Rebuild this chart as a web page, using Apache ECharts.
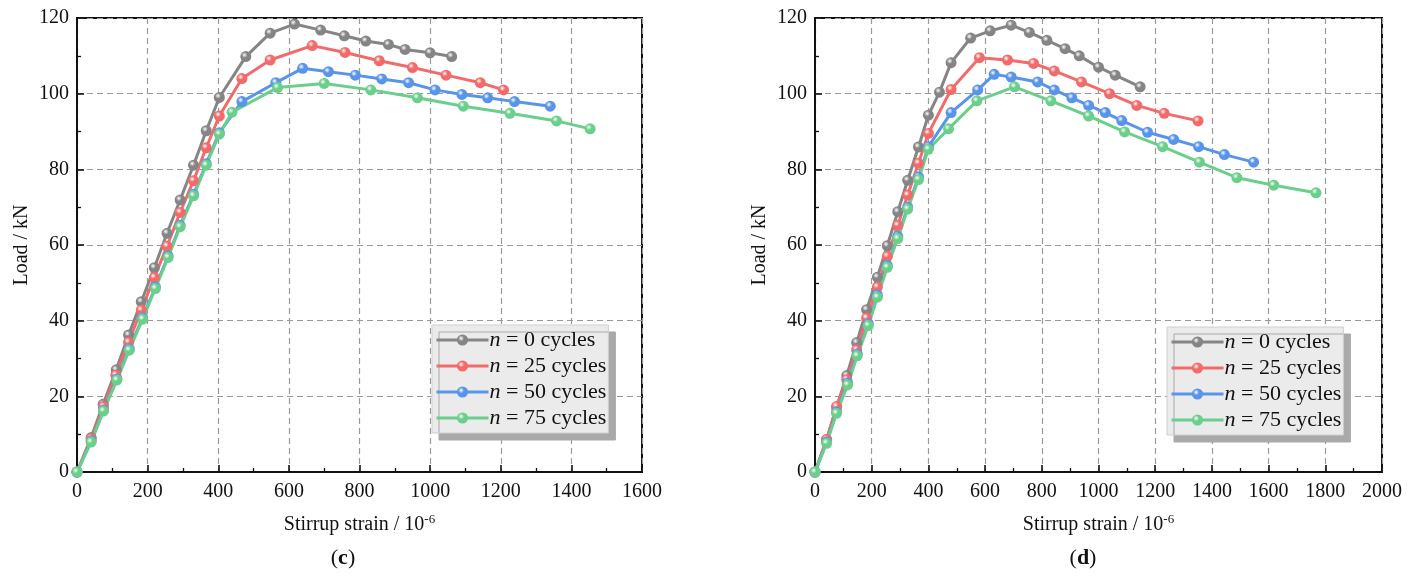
<!DOCTYPE html>
<html>
<head>
<meta charset="UTF-8">
<title>Load - stirrup strain</title>
<script src="https://cdn.jsdelivr.net/npm/echarts@6/dist/echarts.min.js"></script>
<style>
  body { margin: 0; background: #fff; }
  #main { width: 1415px; height: 584px; }
</style>
</head>
<body>
<div id="main"></div>
<script>
// series names
var names = ['n = 0 cycles', 'n = 25 cycles', 'n = 50 cycles', 'n = 75 cycles'];
var colors = ['#858585', '#f26b6b', '#5895ea', '#6bcf8c'];

// chart (c)
var c0x = [0, 40, 74, 111, 146, 182, 219, 255, 292, 330, 366, 403, 478, 547, 616, 690, 757, 818, 882, 929, 1000, 1061];
var c0y = [0, 9.1, 17.9, 27, 36.2, 45, 54, 63.1, 71.9, 81.1, 90.2, 99, 109.8, 116, 118.4, 116.8, 115.3, 113.9, 113, 111.7, 110.8, 109.8];
var c25x = [0, 40, 75, 110, 146, 182, 219, 255, 292, 330, 366, 403, 467, 547, 666, 759, 856, 950, 1045, 1142, 1208];
var c25y = [0, 8.8, 17.3, 25.6, 34.3, 42.8, 51.4, 59.7, 68.6, 77, 85.7, 94.1, 104, 108.9, 112.7, 110.9, 108.7, 106.9, 104.9, 102.9, 101];
var c50x = [0, 40, 75, 113, 148, 186, 222, 258, 292, 330, 366, 403, 467, 563, 639, 712, 788, 863, 939, 1014, 1090, 1163, 1239, 1340];
var c50y = [0, 8.2, 16.4, 24.6, 32.6, 40.8, 48.9, 57.1, 65.2, 73.4, 81.5, 89.7, 97.9, 102.9, 106.7, 105.8, 104.9, 103.9, 102.9, 101, 99.8, 98.9, 97.9, 96.7];
var c75x = [0, 40, 75, 113, 148, 186, 222, 258, 292, 330, 366, 403, 439, 568, 700, 832, 964, 1094, 1226, 1358, 1453];
var c75y = [0, 7.9, 16.1, 24.3, 32.2, 40.4, 48.5, 56.7, 64.8, 73, 81.1, 89.3, 95.1, 101.6, 102.7, 101, 98.9, 96.7, 94.8, 92.8, 90.7];

// chart (d)
var d0x = [0, 41, 76, 112, 147, 182, 220, 255, 292, 327, 365, 400, 439, 480, 549, 618, 692, 756, 818, 882, 932, 1000, 1059, 1147];
var d0y = [0, 8.5, 17.1, 25.5, 34.2, 42.9, 51.5, 59.8, 68.8, 77.1, 85.9, 94.3, 100.4, 108.2, 114.7, 116.6, 118.1, 116.2, 114.1, 111.9, 110, 107, 104.9, 101.8];
var d25x = [0, 41, 76, 112, 147, 182, 220, 255, 292, 327, 365, 400, 480, 580, 679, 771, 844, 940, 1039, 1135, 1232, 1351];
var d25y = [0, 8.6, 17.3, 24.4, 32.3, 40.7, 48.9, 57, 65.2, 73.2, 81.6, 89.5, 101.1, 109.5, 108.9, 108, 106, 103.1, 100, 96.9, 94.8, 92.8];
var d50x = [0, 41, 76, 115, 149, 188, 220, 255, 292, 327, 365, 400, 480, 574, 632, 692, 785, 844, 906, 965, 1024, 1082, 1173, 1265, 1353, 1444, 1547];
var d50y = [0, 7.9, 15.9, 23.5, 31.2, 39.2, 46.8, 54.6, 62.3, 70, 78, 86, 95, 101, 105.1, 104.4, 103.1, 101, 98.9, 96.9, 95, 92.9, 89.8, 87.9, 86, 83.9, 81.9];
var d75x = [0, 41, 76, 115, 149, 188, 220, 255, 292, 327, 365, 400, 471, 571, 704, 832, 965, 1092, 1226, 1356, 1488, 1618, 1767];
var d75y = [0, 7.6, 15.5, 23, 30.7, 38.7, 46.2, 54.1, 61.7, 69.5, 77.3, 85.3, 90.7, 98.1, 101.8, 98.1, 94.1, 89.9, 86, 81.9, 77.8, 75.8, 73.8];

var yTicks = [0, 20, 40, 60, 80, 100, 120];

function zip(xs, ys) {
  var out = [];
  for (var i = 0; i < xs.length; i++) out.push([xs[i], ys[i]]);
  return out;
}

var serif = 'Liberation Serif';

function ball(c) {
  return {
    type: 'radial', x: 0.38, y: 0.35, r: 0.75,
    colorStops: [{ offset: 0, color: '#ffffff' }, { offset: 0.35, color: c }, { offset: 1, color: c }]
  };
}

function mkSeries(idx, xs, ys, k) {
  return {
    name: names[k],
    type: 'line',
    xAxisIndex: idx, yAxisIndex: idx,
    data: zip(xs, ys),
    symbol: 'circle',
    symbolSize: 11,
    lineStyle: { color: colors[k], width: 3 },
    itemStyle: { color: ball(colors[k]), borderWidth: 0 },
    emphasis: { disabled: true },
    animation: false
  };
}

function xAx(idx, max) {
  return {
    gridIndex: idx, type: 'value', min: 0, max: max, interval: 200,
    name: '{a|Stirrup strain / 10}{s|-6}',
    nameLocation: 'middle', nameGap: 41,
    nameTextStyle: {
      rich: {
        a: { fontFamily: serif, fontSize: 20, color: '#111' },
        s: { fontFamily: serif, fontSize: 13, color: '#111', verticalAlign: 'top', padding: [0, 0, 10, 0] }
      }
    },
    axisLine: { show: true, onZero: false, lineStyle: { color: '#111', width: 2 } },
    axisTick: { show: true, inside: true, length: 7, lineStyle: { color: '#111', width: 1.6 } },
    minorTick: { show: true, splitNumber: 2, length: 4, lineStyle: { color: '#111', width: 1.3 } },
    axisLabel: { fontFamily: serif, fontSize: 20, color: '#111', margin: 10,
      formatter: function (v) { return String(v); } },
    splitLine: { show: true, lineStyle: { color: '#999', type: [6, 4], width: 1.2 } }
  };
}

function yAx(idx) {
  return {
    gridIndex: idx, type: 'value', min: yTicks[0], max: yTicks[yTicks.length - 1], interval: 20,
    name: 'Load / kN', nameLocation: 'middle', nameGap: 45,
    nameTextStyle: { fontFamily: serif, fontSize: 20, color: '#111' },
    axisLine: { show: true, lineStyle: { color: '#111', width: 2 } },
    axisTick: { show: true, inside: true, length: 7, lineStyle: { color: '#111', width: 1.6 } },
    minorTick: { show: true, splitNumber: 2, length: 4, lineStyle: { color: '#111', width: 1.3 } },
    axisLabel: { fontFamily: serif, fontSize: 20, color: '#111', margin: 8 },
    splitLine: { show: true, lineStyle: { color: '#999', type: [6, 4], width: 1.2 } }
  };
}

function legendAt(left, top) {
  return {
    data: names,
    orient: 'vertical',
    left: left, top: top,
    itemWidth: 52, itemHeight: 14, itemGap: 4,
    padding: [4, 2, 4, 3],
    backgroundColor: '#ebebeb',
    borderColor: '#cfcfcf', borderWidth: 1,
    shadowColor: '#a9a9a9', shadowOffsetX: 7, shadowOffsetY: 7, shadowBlur: 0,
    selectedMode: false,
    lineStyle: { width: 3 },
    formatter: function (n) { return '{i|n}' + n.slice(1); },
    textStyle: {
      fontFamily: serif, fontSize: 22, color: '#111', padding: [0, 0, 0, -4],
      rich: { i: { fontFamily: serif, fontSize: 22, fontStyle: 'italic', color: '#111' } }
    }
  };
}

function caption(letter, x) {
  return {
    text: '{p|(}{b|' + letter + '}{p|)}', left: x, top: 542, textAlign: 'center',
    textStyle: {
      rich: {
        p: { fontFamily: serif, fontSize: 22, fontWeight: 'normal', color: '#111' },
        b: { fontFamily: serif, fontSize: 22, fontWeight: 'bold', color: '#111' }
      }
    }
  };
}

var chart = echarts.init(document.getElementById('main'), null, { renderer: 'canvas' });

chart.setOption({
  backgroundColor: '#fff',
  animation: false,
  grid: [
    { left: 77, width: 565, top: 18, height: 454, show: true, borderColor: '#111', borderWidth: 2, backgroundColor: 'transparent' },
    { left: 815, width: 567, top: 18, height: 454, show: true, borderColor: '#111', borderWidth: 2, backgroundColor: 'transparent' }
  ],
  xAxis: [xAx(0, 1600), xAx(1, 2000)],
  yAxis: [yAx(0), yAx(1)],
  legend: [legendAt(432, 325), legendAt(1167, 327)],
  title: [caption('c', 338), caption('d', 1078)],
  series: [
    mkSeries(0, c0x, c0y, 0),
    mkSeries(0, c25x, c25y, 1),
    mkSeries(0, c50x, c50y, 2),
    mkSeries(0, c75x, c75y, 3),
    mkSeries(1, d0x, d0y, 0),
    mkSeries(1, d25x, d25y, 1),
    mkSeries(1, d50x, d50y, 2),
    mkSeries(1, d75x, d75y, 3)
  ]
});
</script>
</body>
</html>
